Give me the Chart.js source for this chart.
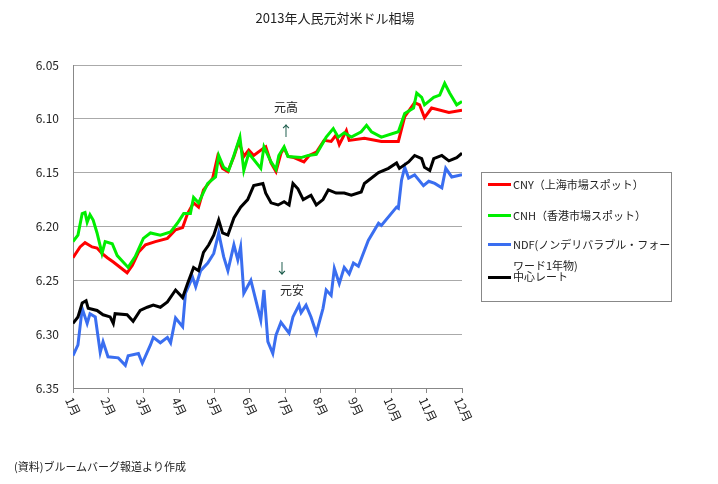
<!DOCTYPE html>
<html><head><meta charset="utf-8">
<script src="https://cdn.jsdelivr.net/npm/chart.js@4.4.1/dist/chart.umd.min.js"></script>
<style>
body{margin:0;background:#fff;font-family:"Noto Sans CJK JP",sans-serif;}
#wrap{position:relative;width:718px;height:484px;}
#legend{position:absolute;left:481px;top:172px;width:189px;height:128px;border:1px solid #888;font-size:11px;color:#222;}
.it{position:absolute;left:31px;line-height:18px;white-space:nowrap;}
.ln{position:absolute;left:6px;width:23px;height:3px;}
#foot{position:absolute;left:14px;top:458px;font-size:11px;color:#222;}
</style></head><body>
<div id="wrap"><canvas id="c" width="718" height="484"></canvas>
<div id="legend">
<div class="ln" style="top:10px;background:#ff0000"></div><div class="it" style="top:2px">CNY（上海市場スポット）</div>
<div class="ln" style="top:41px;background:#00ee00"></div><div class="it" style="top:33px">CNH（香港市場スポット）</div>
<div class="ln" style="top:70px;background:#3a6ef0"></div><div class="it" style="top:62px">NDF(ノンデリバラブル・フォー</div>
<div class="it" style="top:83px;left:31px">ワード1年物)</div>
<div class="ln" style="top:103px;background:#000"></div><div class="it" style="top:94px">中心レート</div>
</div>
<div id="foot">(資料)ブルームバーグ報道より作成</div>
</div>
<script>
const months=["1月","2月","3月","4月","5月","6月","7月","8月","9月","10月","11月","12月"];
const yTicks=[6.05,6.10,6.15,6.20,6.25,6.30,6.35];
const cnyX=[0,.2,.34,.54,.68,.82,.97,1.14,1.53,1.68,1.85,2.05,2.33,2.67,2.9,3.1,3.24,3.41,3.55,3.69,3.95,4.09,4.23,4.38,4.55,4.69,4.83,4.97,5.11,5.4,5.45,5.6,5.74,5.88,5.97,6.08,6.25,6.53,6.68,6.88,7.1,7.3,7.44,7.53,7.73,7.81,8.24,8.72,9.2,9.38,9.66,9.8,9.94,10.14,10.63,11];
const cnyY=[6.229,6.219,6.215,6.219,6.220,6.225,6.229,6.233,6.243,6.236,6.224,6.217,6.214,6.211,6.203,6.201,6.188,6.178,6.182,6.166,6.155,6.135,6.146,6.149,6.135,6.121,6.135,6.129,6.134,6.127,6.126,6.141,6.149,6.132,6.127,6.135,6.136,6.140,6.134,6.131,6.120,6.121,6.115,6.124,6.111,6.120,6.118,6.121,6.121,6.098,6.085,6.087,6.099,6.090,6.094,6.092];
const cnhX=[0,.14,.26,.34,.4,.48,.57,.68,.82,.91,1.11,1.25,1.56,1.76,1.99,2.19,2.47,2.76,2.95,3.13,3.32,3.41,3.55,3.81,4.03,4.12,4.26,4.4,4.55,4.72,4.83,4.97,5.31,5.4,5.6,5.74,5.82,5.97,6.08,6.45,6.65,6.88,7.16,7.36,7.5,7.67,7.87,8.15,8.3,8.44,8.72,9.2,9.38,9.63,9.72,9.86,9.94,10.2,10.37,10.51,10.65,10.85,11];
const cnhY=[6.214,6.208,6.188,6.187,6.196,6.189,6.194,6.206,6.225,6.214,6.216,6.227,6.238,6.228,6.211,6.206,6.208,6.205,6.197,6.188,6.188,6.173,6.178,6.160,6.154,6.134,6.145,6.148,6.134,6.117,6.148,6.132,6.146,6.126,6.140,6.147,6.134,6.126,6.135,6.136,6.134,6.133,6.117,6.109,6.117,6.113,6.117,6.112,6.106,6.112,6.117,6.112,6.095,6.090,6.076,6.080,6.087,6.080,6.078,6.067,6.076,6.087,6.084];
const cenX=[0,.14,.26,.37,.43,.68,.85,1.05,1.14,1.19,1.53,1.7,1.9,2.1,2.27,2.47,2.67,2.9,3.1,3.24,3.41,3.55,3.69,3.84,3.98,4.12,4.23,4.38,4.55,4.74,4.94,5.11,5.37,5.45,5.6,5.8,5.97,6.11,6.22,6.36,6.51,6.73,6.88,7.07,7.22,7.44,7.67,7.87,8.15,8.24,8.64,8.92,9.15,9.23,9.49,9.66,9.86,9.94,10.09,10.2,10.43,10.63,10.85,11];
const cenY=[6.290,6.284,6.271,6.269,6.276,6.278,6.282,6.284,6.290,6.281,6.282,6.288,6.278,6.275,6.273,6.275,6.270,6.259,6.266,6.253,6.238,6.241,6.224,6.217,6.208,6.194,6.206,6.208,6.192,6.182,6.175,6.162,6.160,6.169,6.178,6.180,6.177,6.180,6.160,6.165,6.175,6.171,6.180,6.175,6.166,6.169,6.169,6.171,6.168,6.160,6.150,6.146,6.141,6.146,6.140,6.134,6.137,6.145,6.148,6.137,6.134,6.139,6.136,6.132];
const ndfX=[0,.14,.26,.4,.48,.63,.77,.85,.99,1.28,1.48,1.56,1.85,1.96,2.19,2.27,2.47,2.67,2.76,2.9,3.1,3.18,3.38,3.47,3.61,3.81,3.98,4.12,4.26,4.38,4.55,4.66,4.74,4.83,5.03,5.31,5.4,5.51,5.65,5.74,5.88,6.11,6.22,6.39,6.45,6.59,6.73,6.88,7.07,7.16,7.3,7.39,7.53,7.67,7.81,7.93,8.07,8.35,8.64,8.72,9.15,9.2,9.29,9.38,9.49,9.66,9.91,10.06,10.23,10.43,10.54,10.71,11];
const ndfY=[6.320,6.310,6.276,6.290,6.281,6.284,6.317,6.307,6.321,6.322,6.329,6.320,6.318,6.327,6.310,6.303,6.308,6.303,6.308,6.285,6.293,6.262,6.247,6.256,6.241,6.234,6.225,6.206,6.228,6.241,6.217,6.231,6.219,6.262,6.250,6.287,6.259,6.307,6.318,6.301,6.289,6.299,6.284,6.273,6.280,6.273,6.284,6.299,6.276,6.259,6.264,6.239,6.253,6.238,6.244,6.234,6.237,6.213,6.197,6.199,6.182,6.183,6.157,6.145,6.155,6.152,6.162,6.158,6.160,6.164,6.146,6.154,6.152];
const pts=(xs,ys)=>xs.map((x,i)=>({x,y:ys[i]}));
const ds=(label,xs,ys,color)=>({label,data:pts(xs,ys),borderColor:color,borderWidth:3,pointRadius:0,tension:0,fill:false});
const F='"Noto Sans CJK JP",sans-serif';
const deco={id:'deco',afterDraw(c){
  const x=c.ctx,s=c.scales.x,a=c.chartArea;
  x.save();x.fillStyle='#222';x.font='13px '+F;x.textAlign='center';x.textBaseline='middle';
  x.fillText('2013年人民元対米ドル相場',335,18);
  x.font='12px '+F;x.textAlign='left';
  months.forEach((m,i)=>{x.save();x.translate(s.getPixelForValue(i)-4,a.bottom+10);x.rotate(Math.PI*0.36);x.fillText(m,0,0);x.restore();});
  x.textAlign='center';
  x.fillText('元高',286,107);x.fillText('元安',292,290);
  x.fillStyle='#1a5a4a';x.font='14px '+F;
  x.fillText('↑',286,131);x.fillText('↓',282,268);
  x.restore();}};
new Chart(document.getElementById('c'),{type:'line',
 data:{datasets:[ds('CNH',cnhX,cnhY,'#00ee00'),ds('CNY',cnyX,cnyY,'#ff0000'),ds('中心レート',cenX,cenY,'#000000'),ds('NDF',ndfX,ndfY,'#3a6ef0')]},
 options:{responsive:false,animation:false,layout:{padding:{left:0,right:256,top:65,bottom:96}},
  plugins:{legend:{display:false},tooltip:{enabled:false}},
  scales:{
   x:{type:'linear',min:0,max:11,afterFit(s){s.height=0;},ticks:{display:false,stepSize:1},grid:{drawOnChartArea:false,tickLength:5,color:'#888'},border:{color:'#888'}},
   y:{reverse:true,min:6.05,max:6.35,afterFit(s){s.width=73;},afterBuildTicks(s){s.ticks=yTicks.map(v=>({value:v}));},
      ticks:{callback:v=>v.toFixed(2),color:'#222',font:{size:12,family:F},padding:14},
      grid:{color:'#aaa',lineWidth:1,tickLength:0},border:{color:'#888'}}}},
 plugins:[deco]});
</script></body></html>
